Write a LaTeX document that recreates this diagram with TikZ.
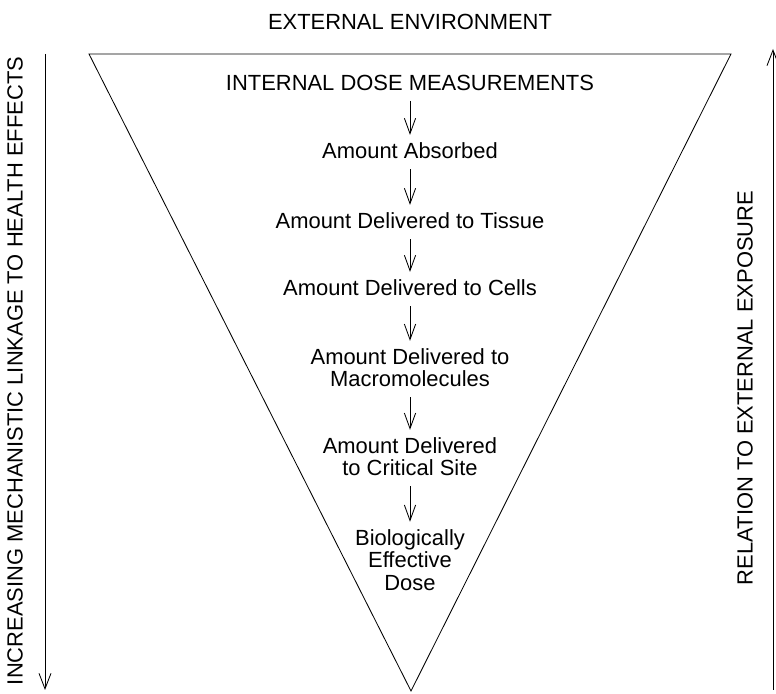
\documentclass[tikz,border=0pt]{standalone}
\usepackage{fontspec}
\setmainfont{Liberation Sans}
\usetikzlibrary{arrows.meta}

\tikzset{
  lbl/.style={inner sep=0pt, align=center, font=\fontsize{15.6pt}{15.8pt}\selectfont},
  flow/.style={-{Straight Barb[length=11pt,width=8pt]}, line width=0.6pt,
    shorten <=7pt, shorten >=5.5pt},
  side/.style={-{Straight Barb[length=11pt,width=8.5pt]}, line width=0.6pt}
}

\begin{document}
\begin{tikzpicture}[x=0.025cm,y=0.025cm]
\useasboundingbox (0,0) rectangle (776,694);

% inverted triangle
\draw[line width=0.6pt, line join=miter] (89,640) -- (731,640) -- (411,3) -- cycle;

\node[lbl] (env) at (410,672) {EXTERNAL ENVIRONMENT};

\node[lbl] (d0) at (410,611) {INTERNAL DOSE MEASUREMENTS};
\node[lbl] (d1) at (410,543) {Amount Absorbed};
\node[lbl] (d2) at (410,473) {Amount Delivered to Tissue};
\node[lbl] (d3) at (410,406) {Amount Delivered to Cells};
\node[lbl] (d4) at (410,326) {Amount Delivered to\\Macromolecules};
\node[lbl] (d5) at (410,237) {Amount Delivered\\to Critical Site};
\node[lbl] (d6) at (410,134) {Biologically\\Effective\\Dose};

\draw[flow] (d0) -- (d1);
\draw[flow] (d1) -- (d2);
\draw[flow] (d2) -- (d3);
\draw[flow] (d3) -- (d4);
\draw[flow] (d4) -- (d5);
\draw[flow] (d5) -- (d6);

% side scales
\coordinate (lt) at (45,640);
\coordinate (lb) at (45,4);
\coordinate (rb) at (773,4);
\coordinate (rt) at (773,645);
\draw[side] (lt) -- (lb);
\draw[side] (rb) -- (rt);

\node[lbl, rotate=90] (link) at (15,323) {INCREASING MECHANISTIC LINKAGE TO HEALTH EFFECTS};
\node[lbl, rotate=90] (rel) at (745,306) {RELATION TO EXTERNAL EXPOSURE};
\end{tikzpicture}
\end{document}
